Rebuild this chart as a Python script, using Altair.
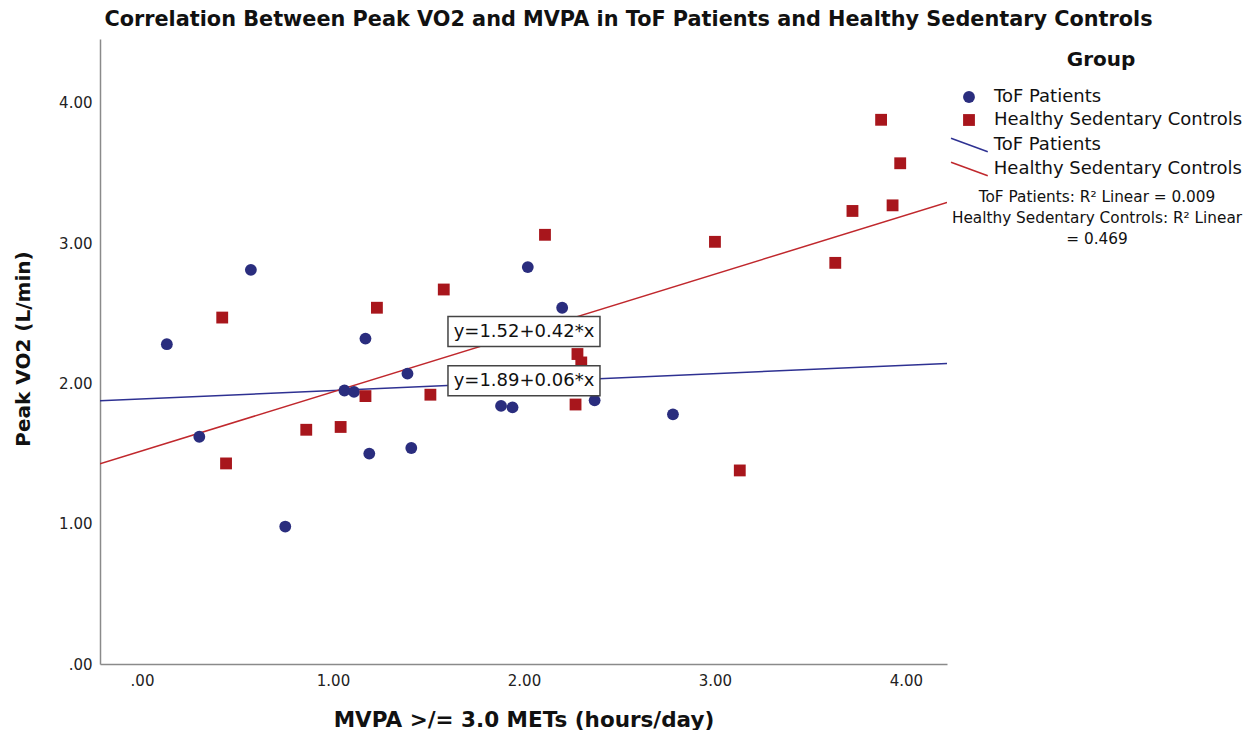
import altair as alt
import pandas as pd

# ---- data ----
tof_x = [0.13, 0.30, 0.57, 0.75, 1.06, 1.11, 1.17, 1.19, 1.39, 1.41, 1.88, 1.94, 2.02, 2.20, 2.37, 2.78]
tof_y = [2.28, 1.62, 2.81, 0.98, 1.95, 1.94, 2.32, 1.50, 2.07, 1.54, 1.84, 1.83, 2.83, 2.54, 1.88, 1.78]

hsc_x = [0.42, 0.44, 0.86, 1.04, 1.17, 1.23, 1.51, 1.58, 2.11, 2.27, 2.28, 2.30, 3.00, 3.13, 3.63, 3.72, 3.87, 3.93, 3.97]
hsc_y = [2.47, 1.43, 1.67, 1.69, 1.91, 2.54, 1.92, 2.67, 3.06, 1.85, 2.21, 2.15, 3.01, 1.38, 2.86, 3.23, 3.88, 3.27, 3.57]

groups = ["ToF Patients", "Healthy Sedentary Controls"]
intercepts = [1.89, 1.52]
slopes = [0.06, 0.42]
eq_labels = ["y=1.89+0.06*x", "y=1.52+0.42*x"]
eq_label_x = [2.0, 2.0]
eq_label_y = [2.02, 2.37]
r2_text = "ToF Patients: R² Linear = 0.009\nHealthy Sedentary Controls: R² Linear\n= 0.469"

x_domain = [-0.22, 4.215]
y_domain = [0.0, 4.456]
ticks = [0, 1, 2, 3, 4]

blue = "#2a2d7e"
red = "#a8161c"
line_blue = "#2e3192"
line_red = "#c0282d"
FONT = "DejaVu Sans"

# ---- tables ----
pts = pd.concat([
    pd.DataFrame({"x": tof_x, "y": tof_y, "Group": groups[0]}),
    pd.DataFrame({"x": hsc_x, "y": hsc_y, "Group": groups[1]}),
], ignore_index=True)

line_rows = []
for g, a, b in zip(groups, intercepts, slopes):
    for xv in x_domain:
        line_rows.append({"x": xv, "y": a + b * xv, "Fit": g})
lines = pd.DataFrame(line_rows)

labels = pd.DataFrame({"x": eq_label_x, "y": eq_label_y, "text": eq_labels})
note = pd.DataFrame({"text": [r2_text]})

xs = alt.Scale(domain=x_domain, nice=False, zero=False)
ys = alt.Scale(domain=y_domain, nice=False, zero=False)

label_expr = "datum.value == 0 ? '.00' : format(datum.value, '.2f')"

x_axis = alt.Axis(values=ticks, labelExpr=label_expr, grid=False, ticks=False,
                  domainColor="#8a8a8a", domainWidth=1.5, labelFontSize=15,
                  labelColor="#222", labelPadding=9, labelFont=FONT,
                  title="MVPA >/= 3.0 METs (hours/day)", titleFontSize=21.5,
                  titleFont=FONT, titleFontWeight="bold", titleColor="#111",
                  titleY=56, titleBaseline="middle")
y_axis = alt.Axis(values=ticks, labelExpr=label_expr, grid=False, ticks=False,
                  domainColor="#8a8a8a", domainWidth=1.5, labelFontSize=15,
                  labelColor="#222", labelPadding=8, labelFont=FONT,
                  title="Peak VO2 (L/min)", titleFontSize=20, titleFont=FONT,
                  titleFontWeight="bold", titleColor="#111",
                  titleX=-77, titleY=309.5, titleAngle=270,
                  titleAlign="center", titleBaseline="middle")

group_legend = alt.Legend(title="Group", orient="none", legendX=860, legendY=11,
                          titleFontSize=20, titleFont=FONT, titleFontWeight="bold",
                          titleColor="#111", titleAnchor="middle", titlePadding=18,
                          labelFontSize=18, labelFont=FONT, labelColor="#111",
                          labelOffset=16, rowPadding=5, symbolSize=140,
                          labelLimit=400)

line_layer = alt.Chart(lines).mark_line(strokeWidth=1.5, clip=True).encode(
    x=alt.X("x:Q", scale=xs, axis=x_axis),
    y=alt.Y("y:Q", scale=ys, axis=y_axis),
    detail="Fit:N",
    stroke=alt.Stroke("Fit:N", scale=alt.Scale(domain=groups, range=[line_blue, line_red]),
                      legend=alt.Legend(title=None, orient="none", legendX=860.4, legendY=97,
                                        symbolType="M-3,-1.1L3,1.1", symbolSize=150,
                                        symbolStrokeWidth=1.5, labelOffset=15.4,
                                        labelFontSize=18, labelFont=FONT, labelColor="#111",
                                        rowPadding=4, labelLimit=400)),
)

point_layer = alt.Chart(pts).mark_point(filled=True, opacity=1, size=140).encode(
    x=alt.X("x:Q", scale=xs),
    y=alt.Y("y:Q", scale=ys),
    color=alt.Color("Group:N", scale=alt.Scale(domain=groups, range=[blue, red]),
                    legend=group_legend),
    shape=alt.Shape("Group:N", scale=alt.Scale(domain=groups, range=["circle", "square"]),
                    legend=group_legend),
)

box_layer = alt.Chart(labels).mark_rect(width=152, height=30, fill="white",
                                         stroke="#444", strokeWidth=1.5).encode(
    x=alt.X("x:Q", scale=xs), y=alt.Y("y:Q", scale=ys))

text_layer = alt.Chart(labels).mark_text(fontSize=18, font=FONT, color="#111").encode(
    x=alt.X("x:Q", scale=xs), y=alt.Y("y:Q", scale=ys), text="text:N")

note_layer = alt.Chart(note).mark_text(fontSize=15.3, font=FONT, color="#111",
                                       lineBreak="\n", lineHeight=21,
                                       baseline="middle", align="center").encode(
    x=alt.value(997), y=alt.value(158), text="text:N")

chart = alt.layer(line_layer, point_layer, box_layer, text_layer, note_layer).resolve_legend(
    stroke="independent"
).properties(
    width=847, height=625,
    background="white",
    autosize=alt.AutoSizeParams(type="none"),
    padding={"left": 92, "top": 31, "right": 303, "bottom": 66},
    title=alt.TitleParams("Correlation Between Peak VO2 and MVPA in ToF Patients and Healthy Sedentary Controls",
                          fontSize=20.8, font=FONT, fontWeight="bold", color="#111",
                          anchor="middle", dx=105, offset=8),
).configure_view(stroke=None)

chart.save("out.html", embed_options={"renderer": "svg", "actions": False})
